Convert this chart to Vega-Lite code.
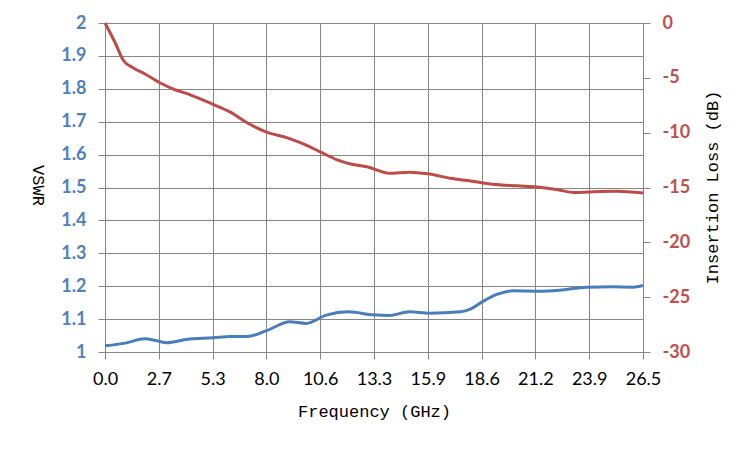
{
  "$schema": "https://vega.github.io/schema/vega-lite/v6.json",
  "width": 538,
  "height": 329,
  "autosize": {"type": "none"},
  "padding": {"left": 105, "top": 23, "right": 107, "bottom": 98},
  "background": "white",
  "datasets": {
    "vswr": [
      {"freq": 0, "vswr": 1.019}, {"freq": 1.0, "vswr": 1.027}, {"freq": 1.97, "vswr": 1.040},
      {"freq": 2.5, "vswr": 1.035}, {"freq": 3.04, "vswr": 1.028}, {"freq": 4.0, "vswr": 1.038},
      {"freq": 5.3, "vswr": 1.043}, {"freq": 6.2, "vswr": 1.047}, {"freq": 7.0, "vswr": 1.047},
      {"freq": 7.96, "vswr": 1.065}, {"freq": 9.1, "vswr": 1.092}, {"freq": 9.9, "vswr": 1.087},
      {"freq": 10.9, "vswr": 1.112}, {"freq": 12.0, "vswr": 1.122}, {"freq": 13.2, "vswr": 1.113},
      {"freq": 14.0, "vswr": 1.111}, {"freq": 15.0, "vswr": 1.122}, {"freq": 16.0, "vswr": 1.118},
      {"freq": 17.5, "vswr": 1.122}, {"freq": 18.0, "vswr": 1.130}, {"freq": 18.6, "vswr": 1.153},
      {"freq": 19.3, "vswr": 1.175}, {"freq": 20.1, "vswr": 1.186}, {"freq": 21.3, "vswr": 1.185},
      {"freq": 22.4, "vswr": 1.188}, {"freq": 23.7, "vswr": 1.197}, {"freq": 25.0, "vswr": 1.198},
      {"freq": 26.0, "vswr": 1.197}, {"freq": 26.5, "vswr": 1.202}
    ],
    "loss": [
      {"freq": 0, "loss": 0}, {"freq": 0.5, "loss": -1.8}, {"freq": 0.9, "loss": -3.4},
      {"freq": 1.4, "loss": -4.1}, {"freq": 1.97, "loss": -4.65}, {"freq": 2.7, "loss": -5.45},
      {"freq": 3.4, "loss": -6.05}, {"freq": 4.2, "loss": -6.55}, {"freq": 5.3, "loss": -7.4},
      {"freq": 6.2, "loss": -8.15}, {"freq": 7.0, "loss": -9.1}, {"freq": 7.96, "loss": -9.95},
      {"freq": 8.95, "loss": -10.45}, {"freq": 9.8, "loss": -11.05}, {"freq": 10.6, "loss": -11.75},
      {"freq": 11.4, "loss": -12.45}, {"freq": 12.1, "loss": -12.85}, {"freq": 12.9, "loss": -13.1},
      {"freq": 14.0, "loss": -13.7}, {"freq": 15.0, "loss": -13.6}, {"freq": 15.9, "loss": -13.75},
      {"freq": 17.0, "loss": -14.15}, {"freq": 18.0, "loss": -14.4}, {"freq": 19.1, "loss": -14.7},
      {"freq": 20.3, "loss": -14.85}, {"freq": 21.3, "loss": -14.95}, {"freq": 22.3, "loss": -15.2},
      {"freq": 23.1, "loss": -15.45}, {"freq": 23.9, "loss": -15.4}, {"freq": 25.2, "loss": -15.35},
      {"freq": 26.5, "loss": -15.5}
    ]
  },
  "encoding": {
    "x": {
      "field": "freq",
      "type": "quantitative",
      "scale": {"domain": [0, 26.5], "nice": false, "zero": false},
      "axis": {
        "values": [0, 2.65, 5.3, 7.95, 10.6, 13.25, 15.9, 18.55, 21.2, 23.85, 26.5],
        "labelExpr": "format(datum.value + 0.001, '.1f')",
        "labelFlush": false,
        "labelOverlap": false,
        "labelBound": false,
        "title": "Frequency (GHz)",
        "titleFont": "Liberation Mono",
        "titleFontSize": 17,
        "titleFontWeight": "normal",
        "titleColor": "black",
        "titleY": 59,
        "titleBaseline": "middle",
        "labelFont": "Lato",
        "labelFontSize": 18,
        "labelColor": "black",
        "labelPadding": 11,
        "tickSize": 7,
        "tickColor": "#868686",
        "domainColor": "#868686",
        "gridColor": "#868686",
        "grid": true
      }
    }
  },
  "layer": [
    {
      "data": {"name": "vswr"},
      "mark": {"type": "line", "interpolate": "monotone", "color": "#4A7EBB", "strokeWidth": 3},
      "encoding": {
        "y": {
          "field": "vswr",
          "type": "quantitative",
          "scale": {"domain": [1, 2], "nice": false, "zero": false},
          "axis": {
            "orient": "left",
            "values": [1, 1.1, 1.2, 1.3, 1.4, 1.5, 1.6, 1.7, 1.8, 1.9, 2],
            "format": ".2~f",
            "labelFlush": false,
            "labelOverlap": false,
            "title": "VSWR",
            "titleAngle": 90,
            "titleX": -68,
            "titleY": 162,
            "titleAlign": "center",
            "titleBaseline": "middle",
            "titleFont": "Liberation Mono",
            "titleFontSize": 17,
            "titleFontWeight": "normal",
            "titleColor": "black",
            "labelFont": "Lato",
            "labelFontSize": 18,
            "labelFontWeight": "bold",
            "labelColor": "#4F81BD",
            "labelPadding": 12,
            "tickSize": 7,
            "tickColor": "#868686",
            "domainColor": "#868686",
            "gridColor": "#868686",
            "grid": true
          }
        }
      }
    },
    {
      "data": {"name": "loss"},
      "mark": {"type": "line", "interpolate": "monotone", "color": "#BE4B48", "strokeWidth": 3},
      "encoding": {
        "y": {
          "field": "loss",
          "type": "quantitative",
          "scale": {"domain": [-30, 0], "nice": false, "zero": false},
          "axis": {
            "orient": "right",
            "values": [-30, -25, -20, -15, -10, -5, 0],
            "labelExpr": "'' + datum.value",
            "labelFlush": false,
            "labelOverlap": false,
            "title": "Insertion Loss (dB)",
            "titleAngle": -90,
            "titleX": 69,
            "titleY": 164,
            "titleAlign": "center",
            "titleBaseline": "middle",
            "titleFont": "Liberation Mono",
            "titleFontSize": 17,
            "titleFontWeight": "normal",
            "titleColor": "black",
            "labelFont": "Lato",
            "labelFontSize": 18,
            "labelFontWeight": "bold",
            "labelColor": "#C0504D",
            "labelPadding": 12,
            "tickSize": 7,
            "tickColor": "#868686",
            "domainColor": "#868686",
            "grid": false
          }
        }
      }
    }
  ],
  "resolve": {"scale": {"y": "independent"}},
  "config": {
    "view": {"stroke": null}
  }
}
